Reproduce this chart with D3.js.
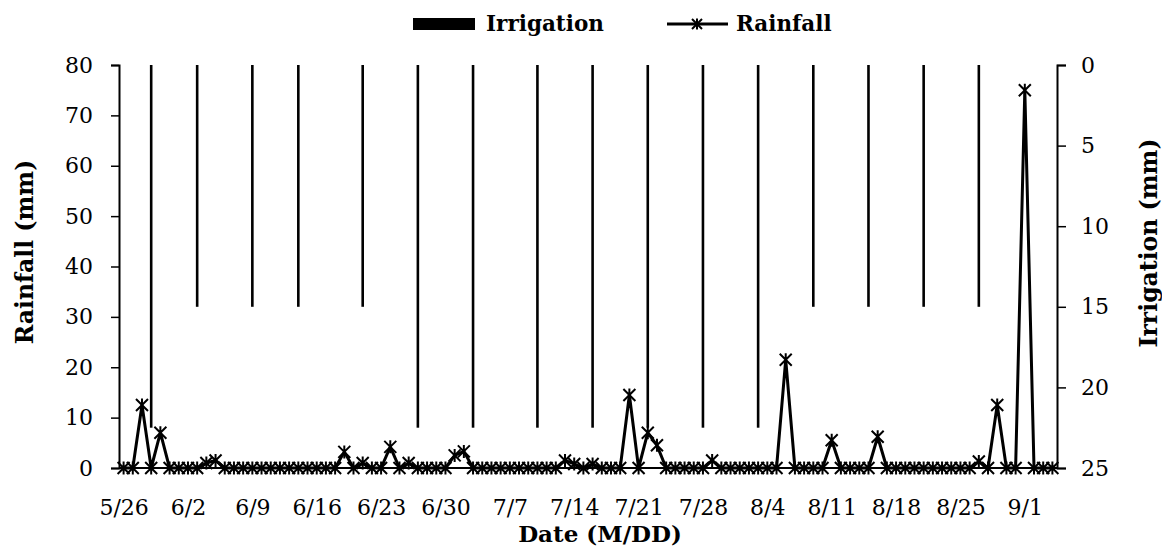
<!DOCTYPE html>
<html>
<head>
<meta charset="utf-8">
<script src="https://cdn.jsdelivr.net/npm/d3@7"></script>
<style>
  body { margin: 0; background: #fff; }
  text { font-family: "DejaVu Serif", serif; fill: #000; }
</style>
</head>
<body>
<div id="chart"></div>
<script>
// daily rainfall (mm), one value per day starting 5/26
let start_date = "2023-05-26"
let rainfall = [
  0, 0, 12.5, 0, 7, 0, 0, 0, 0, 1,
  1.5, 0, 0, 0, 0, 0, 0, 0, 0, 0,
  0, 0, 0, 0, 3.2, 0, 1, 0, 0, 4.2,
  0, 1, 0, 0, 0, 0, 2.5, 3.3, 0, 0,
  0, 0, 0, 0, 0, 0, 0, 0, 1.5, 0.8,
  0, 0.8, 0, 0, 0, 14.5, 0, 7, 4.5, 0,
  0, 0, 0, 0, 1.5, 0, 0, 0, 0, 0,
  0, 0, 21.5, 0, 0, 0, 0, 5.5, 0, 0,
  0, 0, 6.2, 0, 0, 0, 0, 0, 0, 0,
  0, 0, 0, 1.3, 0, 12.5, 0, 0, 75, 0,
  0, 0
]

let irrigation_dates = ["5/29", "6/3", "6/9", "6/14", "6/21", "6/27", "7/3", "7/10",
                        "7/16", "7/22", "7/28", "8/3", "8/9", "8/15", "8/21", "8/27"]
let irrigation_values = [22.5, 15, 15, 15, 15, 22.5, 22.5, 22.5,
                         22.5, 22.5, 22.5, 22.5, 15, 15, 15, 15]

let x_tick_labels = ["5/26", "6/2", "6/9", "6/16", "6/23", "6/30", "7/7", "7/14",
                     "7/21", "7/28", "8/4", "8/11", "8/18", "8/25", "9/1"]
let rain_ticks = [0, 10, 20, 30, 40, 50, 60, 70, 80]
let irr_ticks = [0, 5, 10, 15, 20, 25]

let width = 1162,
    height = 550,
    plot_left = 119, plot_right = 1057, plot_top = 65, plot_bottom = 468

let parse_md = function(s) {
  let p = s.split("/")
  return new Date(2023, +p[0] - 1, +p[1])
}
let days = d3.timeDay.range(d3.timeParse("%Y-%m-%d")(start_date), parse_md("9/5"))
let rain_data = days.map(function(d, i) { return { date: d, value: rainfall[i] } })

let x = d3.scaleTime()
    .domain([d3.timeHour.offset(days[0], -12), d3.timeHour.offset(days[days.length - 1], 12)])
    .range([plot_left, plot_right])
let y = d3.scaleLinear().domain([0, 80]).range([plot_bottom, plot_top])
let y2 = d3.scaleLinear().domain([0, 25]).range([plot_top, plot_bottom])

let svg = d3.select("#chart").append("svg")
    .attr("width", width)
    .attr("height", height)

// irrigation bars hang from the top
svg.selectAll("rect.irr")
    .data(irrigation_dates).enter()
      .append("rect")
        .classed("irr", true)
        .attr("x", function(d) { return x(parse_md(d)) - 1.3 })
        .attr("y", plot_top)
        .attr("width", 2.6)
        .attr("height", function(d, i) { return y2(irrigation_values[i]) - plot_top })
        .style("fill", "#000")

// axes
let left_axis = svg.append("g")
    .attr("transform", "translate(" + plot_left + ",0)")
    .call(d3.axisLeft(y).tickValues(rain_ticks).tickSize(8).tickPadding(18))
let right_axis = svg.append("g")
    .attr("transform", "translate(" + plot_right + ",0)")
    .call(d3.axisRight(y2).tickValues(irr_ticks).tickSize(9).tickPadding(15))
let bottom_axis = svg.append("g")
    .attr("transform", "translate(0," + plot_bottom + ")")
    .call(d3.axisBottom(x).tickValues(x_tick_labels.map(parse_md))
      .tickFormat(function(d, i) { return x_tick_labels[i] })
      .tickSize(0).tickPadding(31))

svg.selectAll(".domain")
    .style("stroke", "#000")
    .style("stroke-width", 2)
svg.selectAll(".tick line")
    .style("stroke", "#000")
    .style("stroke-width", 1.5)
svg.selectAll(".tick text")
    .style("font-family", "DejaVu Serif")
    .style("font-size", "22px")
    .style("fill", "#000")
bottom_axis.select(".domain").attr("d", "M" + plot_left + ",0H" + plot_right)
right_axis.selectAll(".tick text").attr("text-anchor", "start")

// rainfall line with star markers
let line = d3.line()
    .x(function(d) { return x(d.date) })
    .y(function(d) { return y(d.value) })

svg.append("path")
    .datum(rain_data)
    .attr("d", line)
    .style("fill", "none")
    .style("stroke", "#000")
    .style("stroke-width", 3)
    .style("stroke-linejoin", "round")

let star = "M-6,-6L6,6M-6,6L6,-6M0,-6.5L0,6.5"
svg.selectAll("path.marker")
    .data(rain_data).enter()
      .append("path")
        .classed("marker", true)
        .attr("d", star)
        .attr("transform", function(d) { return "translate(" + x(d.date) + "," + y(d.value) + ")" })
        .style("fill", "none")
        .style("stroke", "#000")
        .style("stroke-width", 2)

// axis titles
svg.append("text")
    .attr("transform", "translate(33,252) rotate(-90)")
    .attr("text-anchor", "middle")
    .style("font-size", "23.5px")
    .style("font-weight", "bold")
    .text("Rainfall (mm)")
svg.append("text")
    .attr("transform", "translate(1157,243) rotate(-90)")
    .attr("text-anchor", "middle")
    .style("font-size", "23.5px")
    .style("font-weight", "bold")
    .text("Irrigation (mm)")
svg.append("text")
    .attr("x", 600)
    .attr("y", 542)
    .attr("text-anchor", "middle")
    .style("font-size", "23px")
    .style("font-weight", "bold")
    .text("Date (M/DD)")

// legend
let legend = svg.append("g")
legend.append("rect")
    .attr("x", 413).attr("y", 18)
    .attr("width", 62).attr("height", 12)
    .style("fill", "#000")
legend.append("text")
    .attr("x", 486).attr("y", 31)
    .style("font-size", "21.5px")
    .style("font-weight", "bold")
    .text("Irrigation")
legend.append("line")
    .attr("x1", 667).attr("x2", 728)
    .attr("y1", 24).attr("y2", 24)
    .style("stroke", "#000")
    .style("stroke-width", 3)
legend.append("path")
    .attr("d", "M-5,-5L5,5M-5,5L5,-5M0,-5.5L0,5.5")
    .attr("transform", "translate(697,24)")
    .style("fill", "none")
    .style("stroke", "#000")
    .style("stroke-width", 2)
legend.append("text")
    .attr("x", 736).attr("y", 31)
    .style("font-size", "21.5px")
    .style("font-weight", "bold")
    .text("Rainfall")
</script>
</body>
</html>
